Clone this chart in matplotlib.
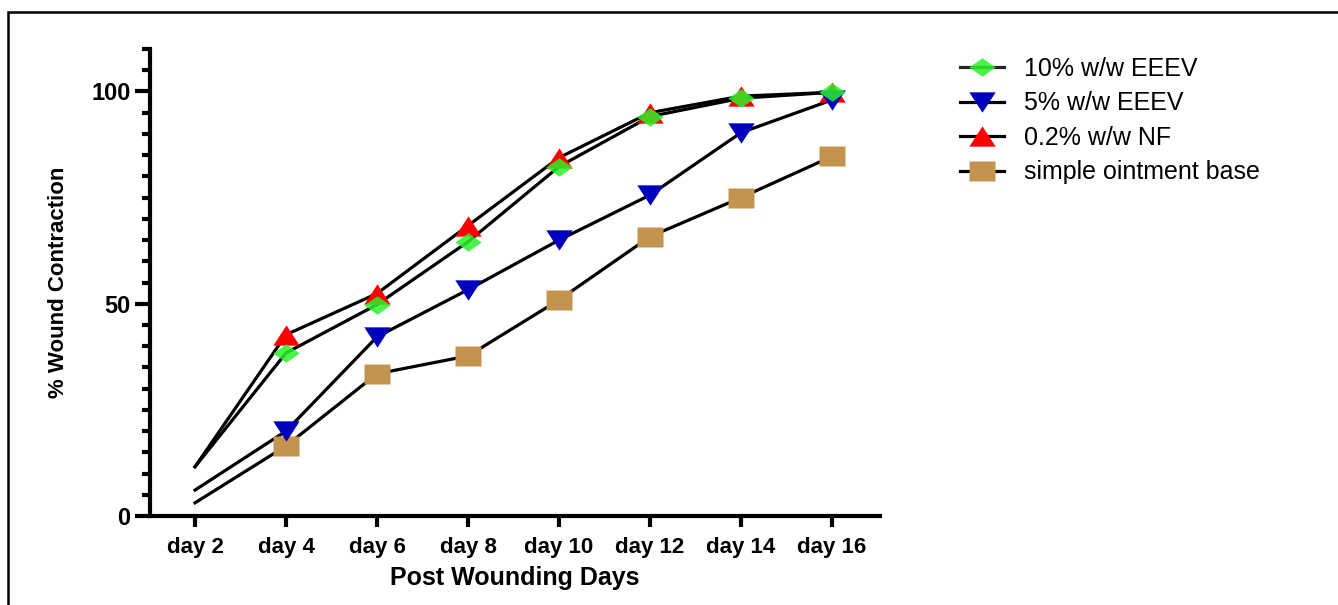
import numpy as np
from matplotlib import pyplot as plt
from matplotlib.lines import Line2D
from matplotlib.patches import Rectangle

# data
days = ["day 2", "day 4", "day 6", "day 8", "day 10", "day 12", "day 14", "day 16"]
eeev10 = [11.6, 38.4, 49.8, 64.6, 82.3, 94.1, 98.4, 99.8]
eeev5 = [6.1, 20.0, 42.2, 53.3, 65.0, 75.6, 90.3, 98.0]
nf = [11.6, 42.7, 52.4, 68.4, 84.4, 95.0, 98.9, 99.8]
base = [3.1, 16.5, 33.5, 37.7, 50.9, 65.8, 75.0, 84.7]

labels = ["10% w/w EEEV", "5% w/w EEEV", "0.2% w/w NF", "simple ointment base"]

# markers in the source look stretched sideways, so use custom shapes
diamond = [(-1, 0), (0, 0.7), (1, 0), (0, -0.7), (-1, 0)]
tri_down = [(-1, 0.77), (1, 0.77), (0, -0.77), (-1, 0.77)]
tri_up = [(-1, -0.77), (1, -0.77), (0, 0.77), (-1, -0.77)]
square = [(-1, -0.77), (1, -0.77), (1, 0.77), (-1, 0.77), (-1, -0.77)]

styles = [
    (eeev10, diamond, "#2af22a", 0.85, 5),
    (eeev5, tri_down, "#0000bd", 1.0, 4),
    (nf, tri_up, "#ff0000", 1.0, 3),
    (base, square, "#c4944f", 1.0, 3),
]

plt.rcParams['font.family'] = ['Liberation Sans', 'DejaVu Sans']

fig = plt.figure(figsize=(13.38, 6.05), dpi=100)
ax = fig.add_axes([150/1338, 1-516/605, 730/1338, 467/605])

x = np.arange(len(days))
ms = 19
handles = []
for vals, mk, col, a, z in styles:
    ax.plot(x, vals, color="black", lw=2.3, zorder=2, clip_on=False)
    ax.plot(x[1:], vals[1:], ls="none", marker=mk, ms=ms, mfc=col, mec="none",
            alpha=a, zorder=z, clip_on=False)
    handles.append(Line2D([0], [0], color="black", lw=2.3, marker=mk, ms=ms,
                          mfc=col, mec="none", alpha=a))

ax.set_xlim(-0.4945, 7.527)
ax.set_ylim(0, 110)
ax.set_xticks(x)
ax.set_xticklabels(days, fontsize=16, fontweight="bold")
ax.set_yticks([0, 50, 100])
ax.set_yticks(np.arange(0, 111, 5), minor=True)
ax.set_yticklabels(["0", "50", "100"], fontsize=17, fontweight="bold")

for s in ["top", "right"]:
    ax.spines[s].set_visible(False)
for s in ["left", "bottom"]:
    ax.spines[s].set_linewidth(3)
ax.tick_params(axis="y", which="major", length=11, width=3, pad=3)
ax.tick_params(axis="y", which="minor", length=6, width=3)
ax.tick_params(axis="x", which="major", length=8, width=3, pad=7)
ax.tick_params(axis="x", which="minor", length=0)

ax.set_xlabel("Post Wounding Days", fontsize=18, fontweight="bold", labelpad=6)
ax.set_ylabel("% Wound Contraction", fontsize=16, fontweight="bold", labelpad=16)

fig.legend(handles, labels, loc="upper left", bbox_to_anchor=(960/1338, 1-57/605),
           frameon=False, fontsize=18, handlelength=1.75, handletextpad=0.8,
           labelspacing=0.42, borderaxespad=0, borderpad=0)

# outer frame
fig.patches.append(Rectangle((8/1338, -0.1), 1.2, 1-12/605+0.1, transform=fig.transFigure,
                             fill=False, lw=1.8, ec="black", zorder=0))

plt.savefig("out.png", dpi=100)
